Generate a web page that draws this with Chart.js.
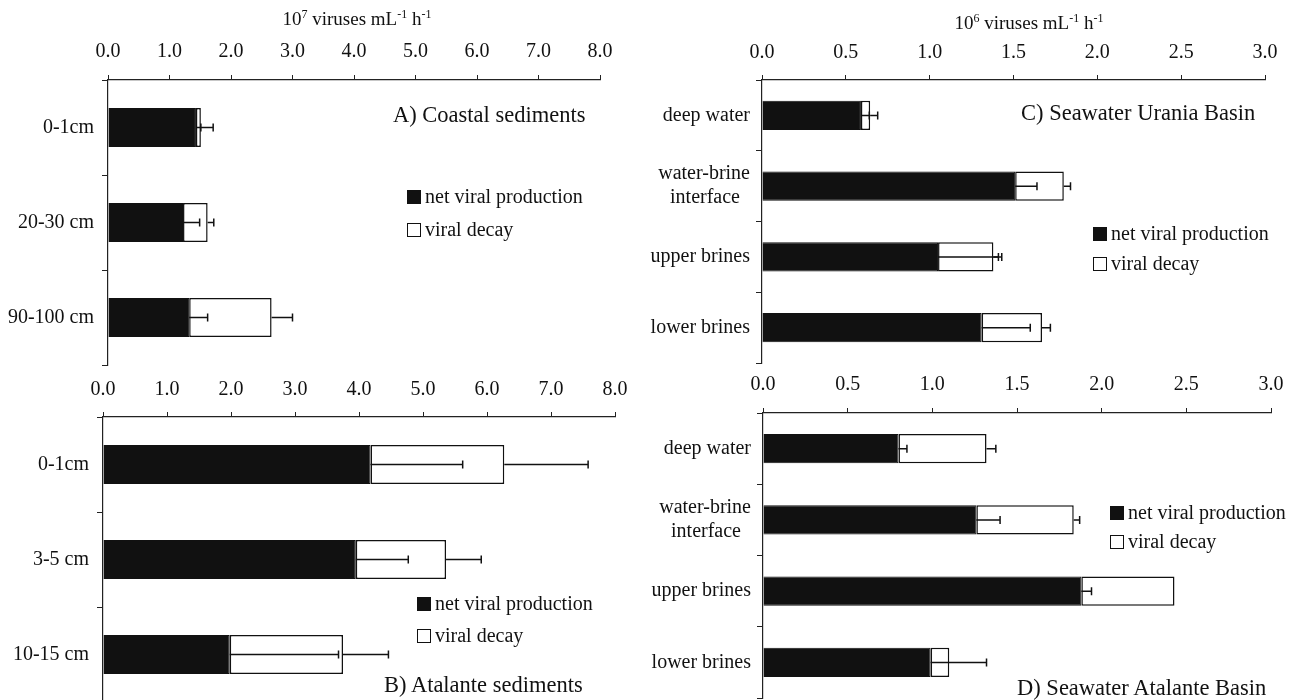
<!DOCTYPE html>
<html>
<head>
<meta charset="utf-8">
<script src="https://cdn.jsdelivr.net/npm/chart.js@4"></script>
<style>
  body { margin: 0; width: 1299px; height: 700px; overflow: hidden; background: #fff;
         font-family: "Liberation Serif", "Times New Roman", serif; color: #111; }
  canvas { position: absolute; }
  .txt { position: absolute; white-space: nowrap; }
  .panel { font-size: 22.5px; line-height: 26px; }
  .axt { font-size: 19px; line-height: 22px; transform: translateX(-50%); }
  .axt sup { font-size: 12px; vertical-align: 7px; line-height: 0; }
  .leg { font-size: 20px; }
  .sw { display: inline-block; width: 14px; height: 14px; box-sizing: border-box;
        border: 1.5px solid #111; margin-right: 4px; vertical-align: -1px; }
  .sw.black { background: #111; }
  .sw.white { background: #fff; }
</style>
</head>
<body>
<canvas id="chartA" width="650" height="372" style="left:0;top:0"></canvas>
<canvas id="chartB" width="650" height="345" style="left:0;top:360px"></canvas>
<canvas id="chartC" width="649" height="372" style="left:650px;top:0"></canvas>
<canvas id="chartD" width="649" height="345" style="left:650px;top:360px"></canvas>

<div class="txt axt" style="left:357px;top:8px">10<sup>7</sup> viruses mL<sup>-1</sup> h<sup>-1</sup></div>
<div class="txt axt" style="left:1029px;top:12px">10<sup>6</sup> viruses mL<sup>-1</sup> h<sup>-1</sup></div>

<div class="txt panel" style="left:393px;top:102px">A) Coastal sediments</div>
<div class="txt panel" style="left:384px;top:672px">B) Atalante sediments</div>
<div class="txt panel" style="left:1021px;top:100px">C) Seawater Urania Basin</div>
<div class="txt panel" style="left:1017px;top:675px">D) Seawater Atalante Basin</div>

<div class="txt leg" style="left:407px;top:180px;line-height:33px">
  <div><span class="sw black"></span>net viral production</div>
  <div><span class="sw white"></span>viral decay</div>
</div>
<div class="txt leg" style="left:417px;top:587px;line-height:32px">
  <div><span class="sw black"></span>net viral production</div>
  <div><span class="sw white"></span>viral decay</div>
</div>
<div class="txt leg" style="left:1093px;top:218px;line-height:30px">
  <div><span class="sw black"></span>net viral production</div>
  <div><span class="sw white"></span>viral decay</div>
</div>
<div class="txt leg" style="left:1110px;top:498px;line-height:29px">
  <div><span class="sw black"></span>net viral production</div>
  <div><span class="sw white"></span>viral decay</div>
</div>

<script>
// A) Coastal sediments (10^7 viruses mL-1 h-1)
const catsA = ['0-1cm', '20-30 cm', '90-100 cm'];
const netA = [1.43, 1.22, 1.32];
const decayA = [0.08, 0.40, 1.34];
const netErrA = [0.08, 0.27, 0.30];
const decayErrA = [0.20, 0.10, 0.34];

// B) Atalante sediments
const catsB = ['0-1cm', '3-5 cm', '10-15 cm'];
const netB = [4.18, 3.95, 1.98];
const decayB = [2.09, 1.41, 1.77];
const netErrB = [1.44, 0.82, 1.70];
const decayErrB = [1.31, 0.55, 0.71];

// C) Seawater Urania Basin (10^6 viruses mL-1 h-1)
// en space after "interface" keeps the two-line label roughly centred
const catsC = ['deep water', ['water-brine', 'interface\u2002'], 'upper brines', 'lower brines'];
const netC = [0.59, 1.51, 1.05, 1.31];
const decayC = [0.055, 0.29, 0.33, 0.36];
const netErrC = [0.05, 0.13, 0.38, 0.29];
const decayErrC = [0.045, 0.04, 0.03, 0.05];

// D) Seawater Atalante Basin
const catsD = ['deep water', ['water-brine', 'interface\u2002'], 'upper brines', 'lower brines'];
const netD = [0.80, 1.26, 1.88, 0.99];
const decayD = [0.52, 0.575, 0.55, 0.11];
const netErrD = [0.05, 0.14, 0.06, 0.33];
const decayErrD = [0.055, 0.035, 0, 0];

const ticksA = [0, 1, 2, 3, 4, 5, 6, 7, 8];
const ticksC = [0, 0.5, 1, 1.5, 2, 2.5, 3];

Chart.defaults.font.family = '"Liberation Serif", "Times New Roman", serif';
Chart.defaults.font.size = 20;
Chart.defaults.color = '#111';

// one-sided error bars drawn from the end of each stacked segment
const errorBars = {
  id: 'errorBars',
  afterDatasetsDraw(chart) {
    const ctx = chart.ctx;
    const xs = chart.scales.x;
    ctx.save();
    ctx.strokeStyle = '#111';
    ctx.lineWidth = 1.5;
    chart.data.datasets.forEach((ds, i) => {
      const meta = chart.getDatasetMeta(i);
      meta.data.forEach((bar, j) => {
        const err = ds.errors[j];
        if (!err) return;
        let total = 0;
        for (let k = 0; k <= i; k++) total += chart.data.datasets[k].data[j];
        const x0 = xs.getPixelForValue(total);
        const x1 = xs.getPixelForValue(total + err);
        ctx.beginPath();
        ctx.moveTo(x0, bar.y);
        ctx.lineTo(x1, bar.y);
        ctx.moveTo(x1, bar.y - 4);
        ctx.lineTo(x1, bar.y + 4);
        ctx.stroke();
      });
    });
    ctx.restore();
  }
};

function makeChart(id, cats, net, decay, netErr, decayErr, cfg) {
  const ctx = document.getElementById(id).getContext('2d');
  return new Chart(ctx, {
    type: 'bar',
    data: {
      labels: cats,
      datasets: [{
        label: 'net viral production',
        data: net,
        errors: netErr,
        backgroundColor: '#111',
        borderColor: '#111',
        borderWidth: 1
      }, {
        label: 'viral decay',
        data: decay,
        errors: decayErr,
        backgroundColor: '#fff',
        borderColor: '#111',
        borderWidth: 1.5,
        borderSkipped: false
      }]
    },
    options: {
      responsive: false,
      animation: false,
      indexAxis: 'y',
      layout: { padding: { left: 0, top: 0, right: cfg.right, bottom: cfg.bottom } },
      datasets: { bar: { categoryPercentage: 1, barPercentage: 0.41 } },
      plugins: { legend: { display: false }, tooltip: { enabled: false } },
      scales: {
        x: {
          position: 'top',
          stacked: true,
          min: 0,
          max: cfg.max,
          afterBuildTicks: s => { s.ticks = cfg.ticks.map(v => ({ value: v })); },
          afterFit: s => { s.height = cfg.xh; s.paddingLeft = 0; s.paddingRight = 0; },
          ticks: { padding: cfg.xpad, maxRotation: 0, callback: v => Number(v).toFixed(1) },
          grid: { drawOnChartArea: false, tickLength: 5, color: '#222', lineWidth: 1 },
          border: { display: true, color: '#222', width: 1.2 }
        },
        y: {
          stacked: true,
          afterFit: s => { s.width = cfg.yw; s.paddingTop = 0; s.paddingBottom = 0; },
          ticks: { padding: cfg.ypad },
          grid: { offset: true, drawOnChartArea: false, tickLength: 6, color: '#222', lineWidth: 1 },
          border: { display: true, color: '#222', width: 1.2 }
        }
      }
    },
    plugins: [errorBars]
  });
}

makeChart('chartA', catsA, netA, decayA, netErrA, decayErrA,
  { max: 8, ticks: ticksA, xh: 80, yw: 108, right: 50, bottom: 7, xpad: 11, ypad: 8 });
makeChart('chartB', catsB, netB, decayB, netErrB, decayErrB,
  { max: 8, ticks: ticksA, xh: 57, yw: 103, right: 35, bottom: 3, xpad: 10, ypad: 8 });
makeChart('chartC', catsC, netC, decayC, netErrC, decayErrC,
  { max: 3, ticks: ticksC, xh: 80, yw: 112, right: 34, bottom: 9, xpad: 10, ypad: 6 });
makeChart('chartD', catsD, netD, decayD, netErrD, decayErrD,
  { max: 3, ticks: ticksC, xh: 53, yw: 113, right: 28, bottom: 7, xpad: 11, ypad: 6 });
</script>
</body>
</html>
